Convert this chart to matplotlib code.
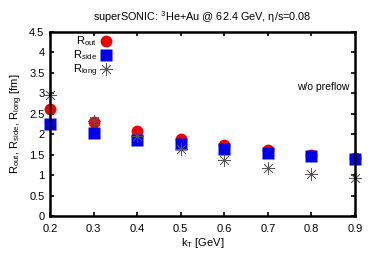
import matplotlib.pyplot as plt

plt.rcParams["font.family"] = ["Liberation Sans", "DejaVu Sans"]
plt.rcParams["mathtext.fontset"] = "custom"
plt.rcParams["mathtext.rm"] = "Liberation Sans"
plt.rcParams["mathtext.it"] = "Liberation Sans"

# HBT radii vs kT
kt = [0.2, 0.3, 0.4, 0.5, 0.6, 0.7, 0.8, 0.9]
r_out = [2.62, 2.30, 2.08, 1.88, 1.74, 1.61, 1.50, 1.41]
r_side = [2.25, 2.03, 1.86, 1.76, 1.64, 1.54, 1.47, 1.39]
r_long = [2.95, 2.32, 1.96, 1.64, 1.37, 1.17, 1.03, 0.93]

fig = plt.figure(figsize=(3.74, 2.62), dpi=100)
ax = fig.add_axes([50 / 374, 46 / 262, 305 / 374, 184 / 262])

ax.plot(kt, r_out, "o", color="#ee0000", ms=8.5, mec="none", label=r"R$_{\rm out}$", clip_on=False)
ax.plot(kt, r_side, "s", color="#0000ee", ms=8, mec="none", label=r"R$_{\rm side}$", clip_on=False)
ax.plot(kt, r_long, marker=(8, 2, 0), ls="none", color="#555555", ms=9, mew=0.5,
        label=r"R$_{\rm long}$", clip_on=False)

ax.set_xlim(0.2, 0.9)
ax.set_ylim(0, 4.5)
ax.set_xticks([0.2, 0.3, 0.4, 0.5, 0.6, 0.7, 0.8, 0.9])
ax.set_yticks([0, 0.5, 1, 1.5, 2, 2.5, 3, 3.5, 4, 4.5])
ax.set_yticklabels(["0", "0.5", "1", "1.5", "2", "2.5", "3", "3.5", "4", "4.5"])
ax.tick_params(direction="in", top=True, right=True, labelsize=8, length=3, width=1.2)
ax.tick_params(axis="x", pad=6)
ax.tick_params(axis="y", pad=4)
for s in ax.spines.values():
    s.set_linewidth(1.8)

ax.set_xlabel(r"k$_{\rm T}$ [GeV]", fontsize=8, labelpad=1)
ax.set_ylabel(r"R$_{\rm out}$, R$_{\rm side}$, R$_{\rm long}$ [fm]", fontsize=8, labelpad=3)
ax.set_title(r"superSONIC: $^{\rm 3}$He+Au @ 62.4 GeV, $\eta$/s=0.08", fontsize=7.8, pad=8)

ax.text(0.888, 3.15, "w/o preflow", fontsize=7.5, ha="right", va="center")

ax.legend(loc="upper left", frameon=False, markerfirst=False, fontsize=8, handlelength=1.0,
          handletextpad=0.3, labelspacing=0.0, borderaxespad=0.0, bbox_to_anchor=(0.06, 1.01))

fig.savefig("out.png", dpi=100)
